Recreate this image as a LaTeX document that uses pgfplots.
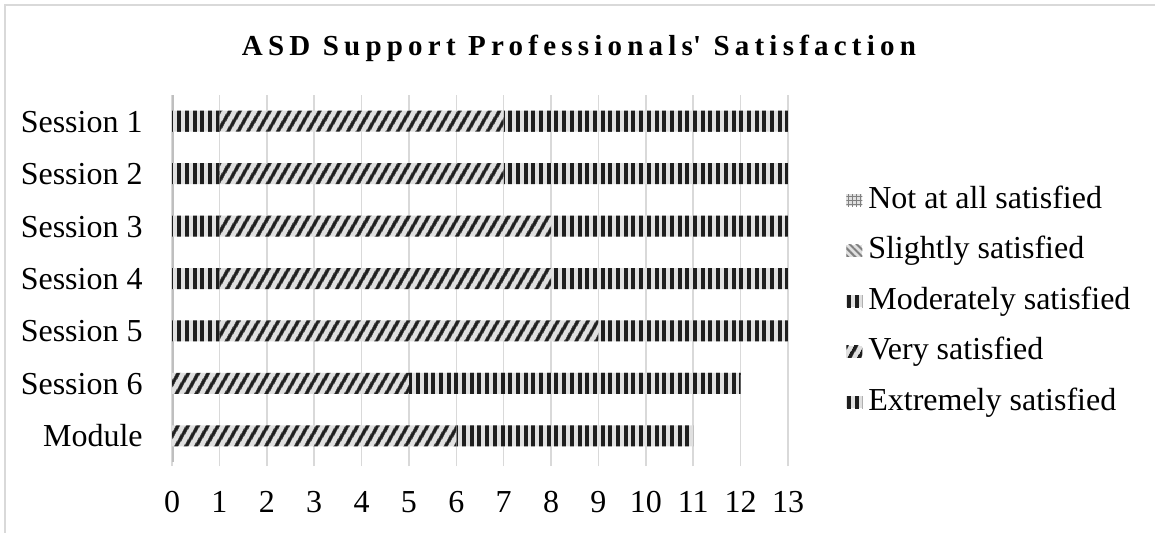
\documentclass[border=0pt]{standalone}
\usepackage{fontspec}
\setmainfont{Liberation Serif}
\usepackage{pgfplots}
\pgfplotsset{compat=1.18}
\usetikzlibrary{patterns,patterns.meta}
\definecolor{gridc}{HTML}{D9D9D9}
\definecolor{axisc}{HTML}{BFBFBF}
\definecolor{barbg}{HTML}{E0E0E0}
\definecolor{stripe}{HTML}{1E1E1E}
\pgfdeclarepatternformonly{vstripes}{\pgfqpoint{-1pt}{-1pt}}{\pgfqpoint{5pt}{21pt}}{\pgfqpoint{3.85pt}{20pt}}{%
  \pgfpathrectangle{\pgfqpoint{0pt}{-1pt}}{\pgfqpoint{2pt}{22pt}}\pgfusepath{fill}}
\begin{document}
\begin{tikzpicture}[x=1pt,y=1pt]
\useasboundingbox (0,0) rectangle (577.5,-266.5);
\draw[gridc, line width=1pt] (2.5,-300) -- (2.5,-2.5) -- (600,-2.5);
\node[anchor=base, font=\fontsize{14.5}{17}\selectfont\bfseries\addfontfeature{LetterSpace=18}] at (289.5,-28) {ASD Support Professionals\textquotesingle{} Satisfaction};
\begin{axis}[
  at={(86pt,-231pt)}, anchor=south west,
  scale only axis, width=308pt, height=183.5pt,
  xbar stacked, bar width=10.5pt,
  xmin=0, xmax=13, ymin=-0.5, ymax=6.5, y dir=reverse,
  ytick={0,1,2,3,4,5,6},
  yticklabels={Session 1,Session 2,Session 3,Session 4,Session 5,Session 6,Module},
  xtick={0,1,...,13},
  axis line style={draw=none},
  xmajorgrids, grid style={gridc, line width=0.75pt},
  xtick align=outside, xtick pos=left, major tick length=2pt,
  xtick style={gridc, line width=0.75pt},
  ytick style={draw=none},
  /pgf/number format/assume math mode=true,
  tick label style={font=\fontsize{16}{19}\selectfont, text=black},
  xticklabel style={anchor=base, yshift=-23pt},
  yticklabel style={anchor=east, inner sep=0pt, xshift=-14.5pt, text height=11pt, text depth=0pt},
  legend style={draw=none, fill=none, at={(rel axis cs:1.094,0.760)}, anchor=north west,
    inner sep=0pt, row sep=8.25pt, font=\fontsize{16}{19}\selectfont,
    nodes={text height=11.5pt, text depth=3.5pt, inner sep=1pt}},
  legend cell align=left,
  legend image code/.code={\draw[#1, draw=none] (0pt,-3pt) rectangle (8pt,3pt); \path (10pt,0pt);},
]
\addplot[fill=barbg, draw=none, postaction={pattern={Hatch[distance=2pt, line width=0.5pt]}, pattern color=gray}]
  coordinates {(0,0) (0,1) (0,2) (0,3) (0,4) (0,5) (0,6)};
\addplot[fill=barbg, draw=none, postaction={pattern={Lines[angle=-45, distance=2.5pt, line width=1pt]}, pattern color=gray}]
  coordinates {(0,0) (0,1) (0,2) (0,3) (0,4) (0,5) (0,6)};
\addplot[fill=barbg, draw=none, postaction={pattern=vstripes, pattern color=stripe}]
  coordinates {(1,0) (1,1) (1,2) (1,3) (1,4) (0,5) (0,6)};
\addplot[fill=barbg, draw=none, postaction={pattern={Lines[angle=60, distance=4pt, line width=1.85pt]}, pattern color=stripe}]
  coordinates {(6,0) (6,1) (7,2) (7,3) (8,4) (5,5) (6,6)};
\addplot[fill=barbg, draw=none, postaction={pattern=vstripes, pattern color=stripe}]
  coordinates {(6,0) (6,1) (5,2) (5,3) (4,4) (7,5) (5,6)};
\legend{Not at all satisfied, Slightly satisfied, Moderately satisfied, Very satisfied, Extremely satisfied}
\draw[axisc, line width=1.5pt] (rel axis cs:0,0) -- (rel axis cs:0,1);
\end{axis}
\end{tikzpicture}
\end{document}
